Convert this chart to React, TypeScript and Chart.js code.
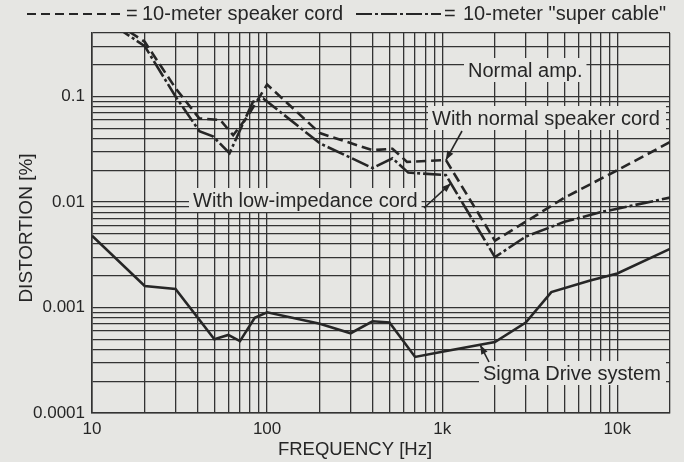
import React, { useEffect, useRef } from 'react';
import { Chart, registerables } from 'chart.js';

Chart.register(...registerables);

const FONT = '"Liberation Sans", Arial, Helvetica, sans-serif';
const INK = '#262626';
const GRID = '#333333';
const PAPER = '#e6e6e3';

// ---- Series (frequency in Hz, distortion in %) ----
const speakerCordFreq = [10, 20, 30, 41, 54, 64, 77, 100, 200, 400, 520, 630, 1050, 2000, 3000, 5000, 10000, 20000];
const speakerCordDist = [0.7, 0.33, 0.12, 0.062, 0.06, 0.043, 0.064, 0.13, 0.045, 0.031, 0.032, 0.024, 0.025, 0.0043, 0.0065, 0.011, 0.02, 0.037];

const superCableFreq = [10, 20, 30, 41, 49, 61, 83, 95, 200, 400, 520, 640, 1050, 2000, 3000, 5000, 8000, 20000];
const superCableDist = [0.65, 0.3, 0.1, 0.047, 0.042, 0.029, 0.089, 0.096, 0.036, 0.021, 0.026, 0.019, 0.018, 0.003, 0.0047, 0.0065, 0.008, 0.011];

const sigmaFreq = [10, 20, 30, 50, 60, 70, 85, 100, 200, 300, 400, 500, 700, 1000, 2000, 3000, 4200, 7000, 10000, 20000];
const sigmaDist = [0.0048, 0.0016, 0.0015, 0.0005, 0.00055, 0.00048, 0.0008, 0.0009, 0.0007, 0.00057, 0.00074, 0.00072, 0.00034, 0.00038, 0.00047, 0.00072, 0.0014, 0.0018, 0.0021, 0.0036];

// ---- Axis ticks ----
const xMin = 10;
const xMax = 20000;
const yMin = 0.0001;
const yMax = 0.4;
const xMajorValues = [10, 100, 1000, 10000];
const xMajorLabels = ['10', '100', '1k', '10k'];
const yMajorValues = [0.0001, 0.001, 0.01, 0.1];
const yMajorLabels = ['0.0001', '0.001', '0.01', '0.1'];

const legendSpeaker = '10-meter speaker cord';
const legendSuper = '10-meter "super cable"';
const xTitle = 'FREQUENCY [Hz]';
const yTitle = 'DISTORTION [%]';

function logGrid(min: number, max: number): number[] {
  const out: number[] = [];
  for (let e = Math.floor(Math.log10(min)); e <= Math.ceil(Math.log10(max)); e++) {
    for (let m = 1; m <= 9; m++) {
      const v = parseFloat((m * Math.pow(10, e)).toPrecision(6));
      if (v >= min * 0.999999 && v <= max * 1.000001) out.push(v);
    }
  }
  return out;
}

function labelFor(value: number, values: number[], labels: string[]): string {
  for (let i = 0; i < values.length; i++) {
    if (Math.abs(value / values[i] - 1) < 1e-6) return labels[i];
  }
  return '';
}

function drawArrow(ctx: CanvasRenderingContext2D, x0: number, y0: number, x1: number, y1: number) {
  ctx.beginPath();
  ctx.moveTo(x0, y0);
  ctx.lineTo(x1, y1);
  ctx.stroke();
  const a = Math.atan2(y1 - y0, x1 - x0);
  const L = 9;
  const W = 3.5;
  ctx.beginPath();
  ctx.moveTo(x1, y1);
  ctx.lineTo(x1 - L * Math.cos(a) + W * Math.sin(a), y1 - L * Math.sin(a) - W * Math.cos(a));
  ctx.lineTo(x1 - L * Math.cos(a) - W * Math.sin(a), y1 - L * Math.sin(a) + W * Math.cos(a));
  ctx.closePath();
  ctx.fill();
}

const paperPlugin = {
  id: 'paper',
  beforeDraw(chart: any) {
    const { ctx, width, height } = chart;
    ctx.save();
    ctx.fillStyle = PAPER;
    ctx.fillRect(0, 0, width, height);
    ctx.restore();
  },
};

const boxedLabels = [
  { text: 'Normal amp.', x: 468, y: 70, right: 0 },
  { text: 'With normal speaker cord', x: 432, y: 118, right: 666 },
  { text: 'With low-impedance cord', x: 193, y: 200, right: 0 },
  { text: 'Sigma Drive system', x: 483, y: 373, right: 666 },
];

const annotationPlugin = {
  id: 'annotations',
  beforeDatasetsDraw(chart: any) {
    const { ctx } = chart;
    ctx.save();
    ctx.font = `20px ${FONT}`;
    ctx.textBaseline = 'middle';
    ctx.textAlign = 'left';
    for (const b of boxedLabels) {
      const w = ctx.measureText(b.text).width;
      const left = b.x - 4;
      const right = b.right ? b.right : b.x + w + 4;
      ctx.fillStyle = PAPER;
      ctx.fillRect(left, b.y - 12, right - left, 24);
      ctx.fillStyle = INK;
      ctx.fillText(b.text, b.x, b.y + 1);
    }
    ctx.restore();
  },
  afterDatasetsDraw(chart: any) {
    const { ctx } = chart;
    const xs = chart.scales.x;
    const ys = chart.scales.y;
    ctx.save();
    ctx.strokeStyle = INK;
    ctx.fillStyle = INK;
    ctx.lineWidth = 1.6;
    // arrow to speaker-cord curve
    drawArrow(ctx, 462, 131, xs.getPixelForValue(1050), ys.getPixelForValue(0.025));
    // arrow to low-impedance curve
    drawArrow(ctx, 424, 208, xs.getPixelForValue(1120), ys.getPixelForValue(0.015));
    // arrow to sigma curve
    drawArrow(ctx, 489, 362, xs.getPixelForValue(1650), ys.getPixelForValue(0.00044));
    ctx.restore();
  },
  afterDraw(chart: any) {
    const { ctx } = chart;
    ctx.save();
    ctx.fillStyle = INK;
    ctx.strokeStyle = INK;
    // legend
    ctx.lineWidth = 2.2;
    ctx.setLineDash([9, 5]);
    ctx.beginPath();
    ctx.moveTo(27, 14);
    ctx.lineTo(122, 14);
    ctx.stroke();
    ctx.setLineDash([16, 3, 3, 3]);
    ctx.beginPath();
    ctx.moveTo(356, 14);
    ctx.lineTo(441, 14);
    ctx.stroke();
    ctx.setLineDash([]);
    ctx.font = `20px ${FONT}`;
    ctx.textBaseline = 'middle';
    ctx.textAlign = 'left';
    ctx.fillText('=', 126, 14);
    ctx.fillText(legendSpeaker, 142, 14);
    ctx.fillText('=', 444, 14);
    ctx.fillText(legendSuper, 463, 14);
    // axis titles
    ctx.font = `18.5px ${FONT}`;
    ctx.textAlign = 'center';
    ctx.fillText(xTitle, 355, 450);
    ctx.translate(27, 228);
    ctx.rotate(-Math.PI / 2);
    ctx.font = `19px ${FONT}`;
    ctx.fillText(yTitle, 0, 0);
    ctx.restore();
  },
};

export default function App() {
  const ref = useRef<HTMLCanvasElement | null>(null);

  useEffect(() => {
    document.body.style.margin = '0';
    document.body.style.background = PAPER;
    const canvas = ref.current;
    if (!canvas) return;
    const xGrid = logGrid(xMin, xMax);
    const yGrid = logGrid(yMin, yMax);
    const pts = (fs: number[], vs: number[]) => fs.map((f, i) => ({ x: f, y: vs[i] }));
    const chart = new Chart(canvas, {
      type: 'line',
      data: {
        datasets: [
          {
            label: legendSpeaker,
            data: pts(speakerCordFreq, speakerCordDist),
            borderColor: INK,
            borderWidth: 2.6,
            borderDash: [10, 5],
            pointRadius: 0,
            tension: 0,
            fill: false,
          },
          {
            label: legendSuper,
            data: pts(superCableFreq, superCableDist),
            borderColor: INK,
            borderWidth: 2.6,
            borderDash: [18, 3, 3, 3],
            pointRadius: 0,
            tension: 0,
            fill: false,
          },
          {
            label: 'Sigma Drive system',
            data: pts(sigmaFreq, sigmaDist),
            borderColor: INK,
            borderWidth: 2.6,
            pointRadius: 0,
            tension: 0,
            fill: false,
          },
        ],
      },
      options: {
        animation: false,
        responsive: false,
        devicePixelRatio: 1,
        events: [],
        layout: { padding: { top: 33, right: 14, left: 0, bottom: 0 } },
        plugins: { legend: { display: false }, tooltip: { enabled: false } },
        scales: {
          x: {
            type: 'logarithmic',
            min: xMin,
            max: xMax,
            afterBuildTicks: (s: any) => {
              s.ticks = xGrid.map((v) => ({ value: v }));
            },
            afterFit: (s: any) => {
              s.height = 49;
            },
            grid: { color: GRID, lineWidth: 1.3, drawTicks: false },
            border: { display: true, color: GRID, width: 1.6 },
            ticks: {
              autoSkip: false,
              maxRotation: 0,
              minRotation: 0,
              padding: 6,
              color: INK,
              font: { family: FONT, size: 17 },
              callback: (v: any) => labelFor(Number(v), xMajorValues, xMajorLabels),
            },
          },
          y: {
            type: 'logarithmic',
            min: yMin,
            max: yMax,
            afterBuildTicks: (s: any) => {
              s.ticks = yGrid.map((v) => ({ value: v }));
            },
            afterFit: (s: any) => {
              s.width = 92;
            },
            grid: { color: GRID, lineWidth: 1.3, drawTicks: false },
            border: { display: true, color: GRID, width: 1.6 },
            ticks: {
              autoSkip: false,
              padding: 7,
              color: INK,
              font: { family: FONT, size: 17 },
              callback: (v: any) => labelFor(Number(v), yMajorValues, yMajorLabels),
            },
          },
        },
      },
      plugins: [paperPlugin, annotationPlugin],
    } as any);
    return () => chart.destroy();
  }, []);

  return (
    <div style={{ width: 684, height: 462, background: PAPER }}>
      <canvas ref={ref} width={684} height={462} style={{ display: 'block', width: 684, height: 462 }} />
    </div>
  );
}
